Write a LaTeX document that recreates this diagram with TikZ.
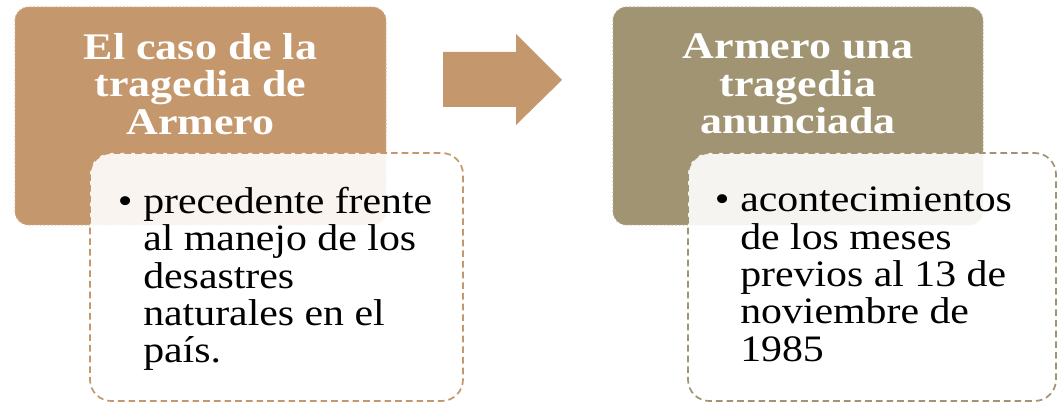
\documentclass[tikz,border=0pt]{standalone}
\usepackage{fontspec}
\setmainfont[FakeStretch=1.12]{Liberation Serif}
\newfontfamily\headfont[FakeStretch=1.17]{Liberation Serif}
\definecolor{boxtan}{RGB}{196,151,108}
\definecolor{boxolive}{RGB}{161,148,114}
\begin{document}
\begin{tikzpicture}[x=0.75pt,y=-0.75pt,
  parent/.style={rounded corners=10pt,line width=0.8pt,dotted},
  child/.style={fill=white,fill opacity=0.9,rounded corners=16pt,line width=1.3pt,dash pattern=on 5pt off 3pt},
  title/.style={text=white,font=\headfont\bfseries\fontsize{28.2}{28.3}\selectfont,align=center,inner sep=0pt},
  item/.style={font=\fontsize{28}{28}\selectfont,align=left,anchor=north west,inner sep=0pt}]
\useasboundingbox (0,0) rectangle (1058,402);

\draw[parent,fill=boxtan,draw=boxtan!75!white] (15,7) rectangle (386,225);
\draw[parent,fill=boxolive,draw=boxolive!75!white] (613,7) rectangle (983,225);

\fill[boxtan] (443,52) -- (516,52) -- (516,34) -- (562,80) -- (516,125) -- (516,107) -- (443,107) -- cycle;

\draw[child,draw=boxtan] (90,153) rectangle (463,401);
\draw[child,draw=boxolive] (688,153) rectangle (1056,401);

\node[title] (titleA) at (200.5,84) {El caso de la\\tragedia de\\Armero};
\node[title] (titleB) at (798,84) {Armero una\\tragedia\\anunciada};

\node[item] (itemA) at (143,187) {\llap{\textbullet\hspace{8pt}}precedente frente\\al manejo de los\\desastres\\naturales en el\\país.};
\node[item] (itemB) at (740,187) {\llap{\textbullet\hspace{8pt}}acontecimientos\\de los meses\\previos al 13 de\\noviembre de\\1985};
\end{tikzpicture}
\end{document}
